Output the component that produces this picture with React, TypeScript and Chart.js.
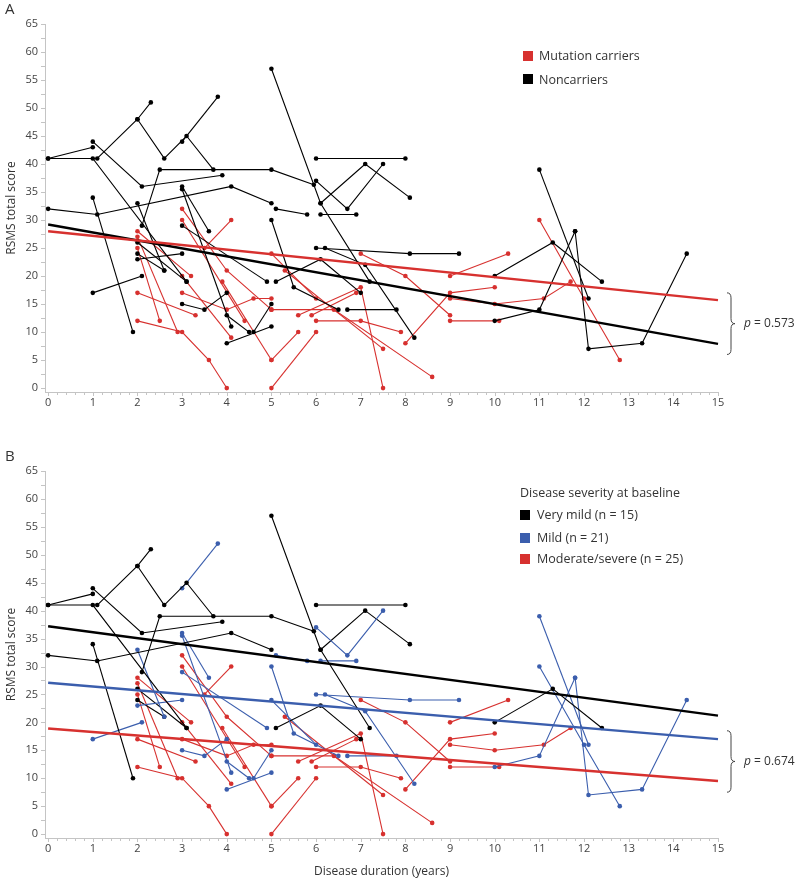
import React, { useEffect, useRef } from "react";
import { Chart, registerables } from "chart.js";

Chart.register(...registerables);

const RED = "#d7312f";
const BLUE = "#3b5ead";
const BLACK = "#000000";
const AXIS = "#c4c4c4";
const TEXT = "#333333";
const FONT = "'Open Sans', 'Noto Sans', sans-serif";

const xTickValues = [0, 1, 2, 3, 4, 5, 6, 7, 8, 9, 10, 11, 12, 13, 14, 15];
const yTickValues = [0, 5, 10, 15, 20, 25, 30, 35, 40, 45, 50, 55, 60, 65];

// one entry per participant: visit times (years of disease duration) and RSMS scores
const visitYears: number[][] = [
  [0, 1.0], [0, 1.0, 3.1], [1.1, 2.0, 2.3], [2.0, 2.6, 3.1, 3.7], [2.1, 2.5, 5.0, 5.95],
  [1.0, 2.1, 3.9], [0, 1.1, 4.1, 5.0], [1.0, 1.9], [1.0, 2.1], [2.0, 2.6],
  [2.0, 3.0], [2.0, 3.1], [2.0, 2.6], [3.0, 3.8], [3.0, 3.6],
  [3.0, 4.1], [3.0, 4.9], [3.0, 3.5, 4.0], [4.0, 4.5], [4.0, 5.0],
  [4.6, 5.0], [5.0, 6.1, 7.2], [5.1, 5.8], [6.1, 6.9], [6.0, 6.7, 7.5],
  [6.1, 7.1, 8.1], [6.0, 8.0], [5.0, 5.5, 6.5], [6.7, 7.8], [6.0, 8.1, 9.2],
  [6.2, 7.1, 8.2], [5.1, 6.1, 7.0], [10.0, 11.3, 12.4], [10.0, 11.0, 11.8], [11.8, 12.1, 13.3, 14.3],
  [11.0, 12.1],
  [2.0, 3.2], [2.0, 2.5], [2.0, 2.9], [2.0, 3.3], [2.0, 3.0, 3.6, 4.0],
  [3.0, 4.0, 5.0], [3.5, 4.1], [3.0, 4.4], [3.0, 4.1], [3.0, 4.0, 4.6, 5.0],
  [3.9, 5.0], [5.0, 5.6], [5.0, 6.0], [5.0, 6.0], [5.6, 7.0, 7.5],
  [5.9, 6.9], [6.0, 7.0, 7.9], [5.3, 7.5], [5.0, 6.4, 8.6], [7.0, 8.0, 9.0],
  [8.0, 9.0, 10.0], [9.0, 10.3], [9.0, 10.0, 11.1, 11.7], [9.0, 10.1], [11.0, 12.0, 12.8],
];
const visitScores: number[][] = [
  [41, 43], [41, 41, 19], [41, 48, 51], [48, 41, 45, 39], [29, 39, 39, 36.3],
  [44, 36, 38], [32, 31, 36, 33], [34, 10], [17, 20], [33, 21],
  [23, 24], [26, 19], [24, 21], [44, 52], [36, 28],
  [35.5, 11], [29, 19], [15, 14, 17], [13, 10], [8, 11],
  [10, 15], [57, 33, 19], [32, 31], [31, 31], [37, 32, 40],
  [33, 40, 34], [41, 41], [30, 18, 14], [14, 14], [25, 24, 24],
  [25, 22, 9], [19, 23, 17], [20, 26, 19], [12, 14, 28], [28, 7, 8, 24],
  [39, 16],
  [28, 20], [25, 12], [27, 10], [17, 13], [12, 10, 5, 0],
  [32, 21, 14], [25, 30], [30, 12], [20, 9], [17, 14, 16, 16],
  [19, 5], [5, 10], [0, 10], [24, 16], [13, 18, 0],
  [13, 17], [12, 12, 10], [21, 7], [14, 14, 2], [24, 20, 13],
  [8, 17, 18], [20, 24], [16, 15, 16, 19], [12, 12], [30, 16, 5],
];
// 1 = mutation carrier, 0 = noncarrier
const carrierStatus: number[] = [
  0, 0, 0, 0, 0, 0, 0, 0, 0, 0, 0, 0, 0, 0, 0, 0, 0, 0, 0, 0,
  0, 0, 0, 0, 0, 0, 0, 0, 0, 0, 0, 0, 0, 0, 0, 0,
  1, 1, 1, 1, 1, 1, 1, 1, 1, 1, 1, 1, 1, 1, 1, 1, 1, 1, 1, 1, 1, 1, 1, 1, 1,
];
// 0 = very mild, 1 = mild, 2 = moderate/severe
const severityGroup: number[] = [
  0, 0, 0, 0, 0, 0, 0, 0, 1, 1, 1, 0, 0, 1, 1, 1, 1, 1, 1, 1,
  1, 0, 1, 1, 1, 0, 0, 1, 1, 1, 1, 0, 0, 1, 1, 1,
  2, 2, 2, 2, 2, 2, 2, 2, 2, 2, 2, 2, 2, 1, 2, 2, 2, 2, 2, 2, 2, 2, 2, 2, 1,
];

const fitYears = [0, 15];
const fitCarriers = [28.0, 15.7];
const fitNoncarriers = [29.2, 7.9];
const fitVeryMild = [37.2, 21.2];
const fitMild = [27.1, 17.0];
const fitModSevere = [18.9, 9.5];

const braceA = [17.0, 6.0];
const braceB = [18.5, 7.5];
const pValueA = "0.573";
const pValueB = "0.674";

type Fit = { vals: number[]; color: string };

function decorPlugin(brace: number[], pValue: string) {
  return {
    id: "decor",
    afterDraw(chart: any) {
      const { ctx, chartArea } = chart;
      const x = chart.scales.x;
      const y = chart.scales.y;
      ctx.save();
      ctx.strokeStyle = AXIS;
      ctx.lineWidth = 1;
      for (let i = 0; i <= 75; i++) {
        const px = Math.round(x.getPixelForValue(i * 0.2)) + 0.5;
        ctx.beginPath();
        ctx.moveTo(px, chartArea.bottom);
        ctx.lineTo(px, chartArea.bottom + (i % 5 === 0 ? 4 : 3));
        ctx.stroke();
      }
      for (let i = 0; i <= 26; i++) {
        const py = Math.round(y.getPixelForValue(i * 2.5)) + 0.5;
        ctx.beginPath();
        ctx.moveTo(chartArea.left - 4, py);
        ctx.lineTo(chartArea.left, py);
        ctx.stroke();
      }
      // curly brace
      const bx = chartArea.right + 9;
      const y1 = y.getPixelForValue(brace[0]);
      const y2 = y.getPixelForValue(brace[1]);
      const mid = (y1 + y2) / 2;
      const w = 8;
      const r = 5;
      ctx.strokeStyle = "#444";
      ctx.lineWidth = 1;
      ctx.beginPath();
      ctx.moveTo(bx, y1);
      ctx.quadraticCurveTo(bx + w / 2, y1, bx + w / 2, y1 + r);
      ctx.lineTo(bx + w / 2, mid - r);
      ctx.quadraticCurveTo(bx + w / 2, mid, bx + w, mid);
      ctx.quadraticCurveTo(bx + w / 2, mid, bx + w / 2, mid + r);
      ctx.lineTo(bx + w / 2, y2 - r);
      ctx.quadraticCurveTo(bx + w / 2, y2, bx, y2);
      ctx.stroke();
      // p value
      ctx.fillStyle = TEXT;
      ctx.textBaseline = "middle";
      ctx.textAlign = "left";
      const tx = bx + w + 9;
      ctx.font = `italic 12px ${FONT}`;
      ctx.fillText("p", tx, mid);
      const pw = ctx.measureText("p").width;
      ctx.font = `12px ${FONT}`;
      ctx.fillText(` = ${pValue}`, tx + pw, mid);
      ctx.restore();
    },
  };
}

function buildConfig(colorOf: (i: number) => string, fits: Fit[], axisHeight: number, xTitle: string | null, brace: number[], pValue: string): any {
  const fitSets = fits.map((f) => ({
    data: fitYears.map((x, j) => ({ x, y: f.vals[j] })),
    borderColor: f.color,
    backgroundColor: f.color,
    borderWidth: 2.4,
    pointRadius: 0,
    pointHoverRadius: 0,
    tension: 0,
    fill: false,
    clip: false,
  }));
  const subjSets = visitYears.map((xs, i) => {
    const c = colorOf(i);
    return {
      data: xs.map((x, j) => ({ x, y: visitScores[i][j] })),
      borderColor: c,
      backgroundColor: c,
      pointBackgroundColor: c,
      pointBorderColor: c,
      borderWidth: 1.1,
      pointRadius: 2.3,
      pointBorderWidth: 0,
      pointHoverRadius: 0,
      tension: 0,
      fill: false,
      clip: false,
    };
  });
  return {
    type: "line",
    data: { datasets: [...fitSets, ...subjSets] },
    options: {
      animation: false,
      responsive: false,
      maintainAspectRatio: false,
      events: [],
      layout: { padding: { top: 24, right: 77, left: 0, bottom: 0 } },
      plugins: { legend: { display: false }, tooltip: { enabled: false } },
      scales: {
        x: {
          type: "linear",
          min: -0.07,
          max: 15,
          afterBuildTicks: (s: any) => {
            s.ticks = xTickValues.map((v) => ({ value: v }));
          },
          afterFit: (s: any) => {
            s.height = axisHeight;
          },
          ticks: {
            autoSkip: false,
            maxRotation: 0,
            padding: 4,
            color: "#444",
            font: { family: FONT, size: 11 },
            callback: (v: any) => String(v),
          },
          grid: { display: false, drawTicks: false },
          border: { display: true, color: AXIS, width: 1 },
          title: xTitle
            ? { display: true, text: xTitle, color: TEXT, font: { family: FONT, size: 12 }, padding: { top: 4, bottom: 10 } }
            : { display: false },
        },
        y: {
          type: "linear",
          min: -0.7,
          max: 65,
          afterBuildTicks: (s: any) => {
            s.ticks = yTickValues.map((v) => ({ value: v }));
          },
          afterFit: (s: any) => {
            s.width = 45;
          },
          ticks: {
            autoSkip: false,
            padding: 7,
            color: "#444",
            font: { family: FONT, size: 11 },
            callback: (v: any) => String(v),
          },
          grid: { display: false, drawTicks: false },
          border: { display: true, color: AXIS, width: 1 },
          title: { display: true, text: "RSMS total score", color: TEXT, font: { family: FONT, size: 12 }, padding: { top: 4, bottom: 0 } },
        },
      },
    },
    plugins: [decorPlugin(brace, pValue)],
  };
}

const sq = (color: string, left: number, top: number): React.CSSProperties => ({
  position: "absolute",
  left,
  top,
  width: 10,
  height: 10,
  background: color,
});

const txt = (left: number, top: number, size = 12.5): React.CSSProperties => ({
  position: "absolute",
  left,
  top,
  fontSize: size,
  lineHeight: "16px",
  color: TEXT,
  whiteSpace: "nowrap",
  fontFamily: FONT,
});

export default function App() {
  const refA = useRef<HTMLCanvasElement>(null);
  const refB = useRef<HTMLCanvasElement>(null);

  useEffect(() => {
    const sevColors = [BLACK, BLUE, RED];
    const chartA = new Chart(
      refA.current as HTMLCanvasElement,
      buildConfig(
        (i) => (carrierStatus[i] ? RED : BLACK),
        [
          { vals: fitCarriers, color: RED },
          { vals: fitNoncarriers, color: BLACK },
        ],
        55,
        null,
        braceA,
        pValueA
      )
    );
    const chartB = new Chart(
      refB.current as HTMLCanvasElement,
      buildConfig(
        (i) => sevColors[severityGroup[i]],
        [
          { vals: fitVeryMild, color: BLACK },
          { vals: fitMild, color: BLUE },
          { vals: fitModSevere, color: RED },
        ],
        51,
        "Disease duration (years)",
        braceB,
        pValueB
      )
    );
    return () => {
      chartA.destroy();
      chartB.destroy();
    };
  }, []);

  return (
    <div style={{ position: "absolute", left: 0, top: 0, width: 795, height: 889, background: "#fff", fontFamily: FONT }}>
      <canvas ref={refA} width={795} height={447} style={{ position: "absolute", left: 0, top: 0, width: 795, height: 447 }} />
      <canvas ref={refB} width={795} height={442} style={{ position: "absolute", left: 0, top: 447, width: 795, height: 442 }} />
      <div style={txt(5, 0, 15)}>A</div>
      <div style={txt(5, 447, 15)}>B</div>

      <div style={sq(RED, 523, 51)} />
      <div style={txt(539, 48)}>Mutation carriers</div>
      <div style={sq(BLACK, 523, 74)} />
      <div style={txt(539, 72)}>Noncarriers</div>

      <div style={txt(520, 485)}>Disease severity at baseline</div>
      <div style={sq(BLACK, 520, 510)} />
      <div style={txt(537, 507)}>Very mild (n = 15)</div>
      <div style={sq(BLUE, 520, 533)} />
      <div style={txt(537, 530)}>Mild (n = 21)</div>
      <div style={sq(RED, 520, 554)} />
      <div style={txt(537, 551)}>Moderate/severe (n = 25)</div>
    </div>
  );
}
